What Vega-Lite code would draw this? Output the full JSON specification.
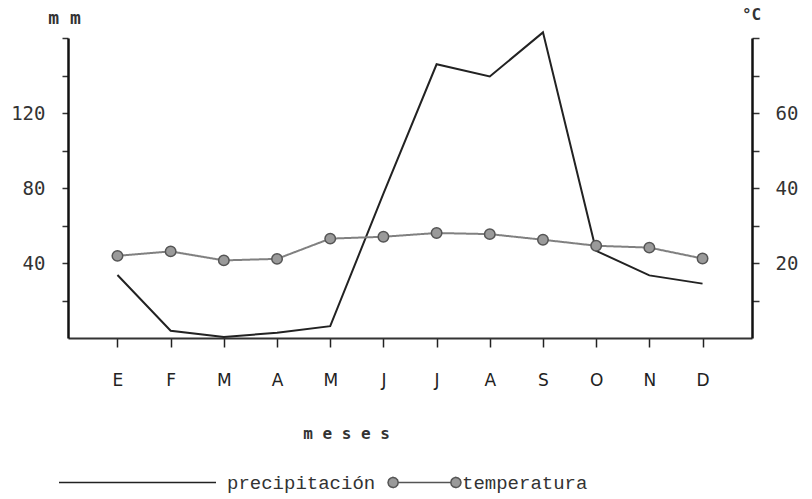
{
  "$schema": "https://vega.github.io/schema/vega-lite/v6.json",
  "width": 684,
  "height": 300,
  "autosize": {"type": "none"},
  "padding": {"left": 68, "top": 38, "right": 60, "bottom": 161},
  "background": "white",
  "config": {"view": {"stroke": null}, "axis": {"grid": false}},
  "data": {
    "values": [
      {"mes": "Ene", "precip": 33.6, "temp": 21.9},
      {"mes": "Feb", "precip": 3.9, "temp": 23.1},
      {"mes": "Mar", "precip": 0.5, "temp": 20.7},
      {"mes": "Abr", "precip": 2.8, "temp": 21.1},
      {"mes": "May", "precip": 6.3, "temp": 26.5},
      {"mes": "Jun", "precip": 77, "temp": 27.0},
      {"mes": "Jul", "precip": 146, "temp": 28.0},
      {"mes": "Ago", "precip": 139.5, "temp": 27.7},
      {"mes": "Sep", "precip": 163, "temp": 26.2},
      {"mes": "Oct", "precip": 46.5, "temp": 24.6},
      {"mes": "Nov", "precip": 33.4, "temp": 24.1},
      {"mes": "Dic", "precip": 29, "temp": 21.2}
    ]
  },
  "encoding": {
    "x": {
      "field": "mes",
      "type": "ordinal",
      "sort": ["Ene","Feb","Mar","Abr","May","Jun","Jul","Ago","Sep","Oct","Nov","Dic"],
      "scale": {"type": "point", "padding": 0.93},
      "axis": {
        "title": "m e s e s",
        "titleFont": "DejaVu Sans Mono",
        "titleFontSize": 16,
        "titleFontWeight": "bold",
        "titleColor": "#333",
        "titleX": 278,
        "titleY": 95,
        "titleAlign": "center",
        "titleBaseline": "middle",
        "labelExpr": "upper(slice(datum.value,0,1))",
        "labelAngle": 0,
        "labelFont": "DejaVu Sans",
        "labelFontSize": 17,
        "labelColor": "#222",
        "labelPadding": 25,
        "tickSize": 9,
        "tickWidth": 1.5,
        "tickColor": "#222",
        "domainWidth": 2,
        "domainColor": "#333"
      }
    }
  },
  "layer": [
    {
      "mark": {"type": "line", "strokeWidth": 2, "clip": false},
      "encoding": {
        "y": {
          "field": "precip",
          "type": "quantitative",
          "scale": {"domain": [0, 160], "nice": false},
          "axis": {
            "orient": "left",
            "values": [20, 40, 60, 80, 100, 120, 140, 160],
            "labelExpr": "(datum.value == 40 || datum.value == 80 || datum.value == 120) ? datum.value : ''",
            "labelFont": "DejaVu Sans Mono",
            "labelFontSize": 19,
            "labelColor": "#333",
            "labelPadding": 17,
            "tickSize": 6,
            "tickWidth": 1.5,
            "tickColor": "#333",
            "domainWidth": 2.5,
            "domainColor": "#111",
            "title": "m m",
            "titleAngle": 0,
            "titleFont": "DejaVu Sans Mono",
            "titleFontSize": 18,
            "titleFontWeight": "bold",
            "titleColor": "#333",
            "titleX": -4,
            "titleY": -20,
            "titleAlign": "center",
            "titleBaseline": "middle"
          }
        },
        "color": {
          "datum": "precipitación",
          "scale": {"range": ["#222"]},
          "legend": {
            "orient": "none",
            "legendX": -10,
            "legendY": 365,
            "title": null,
            "padding": 0,
            "symbolSize": 24649,
            "symbolStrokeWidth": 1.5,
            "labelFont": "Liberation Mono",
            "labelFontSize": 19,
            "labelColor": "#333",
            "labelOffset": 10
          }
        }
      }
    },
    {
      "encoding": {
        "y": {
          "field": "temp",
          "type": "quantitative",
          "scale": {"domain": [0, 80], "nice": false},
          "axis": {
            "orient": "right",
            "values": [10, 20, 30, 40, 50, 60, 70, 80],
            "labelExpr": "(datum.value == 20 || datum.value == 40 || datum.value == 60) ? datum.value : ''",
            "labelFont": "DejaVu Sans Mono",
            "labelFontSize": 19,
            "labelColor": "#333",
            "labelPadding": 16,
            "tickSize": 7,
            "tickWidth": 1.5,
            "tickColor": "#333",
            "domainWidth": 2.5,
            "domainColor": "#111",
            "title": "°C",
            "titleAngle": 0,
            "titleFont": "DejaVu Sans Mono",
            "titleFontSize": 16,
            "titleFontWeight": "bold",
            "titleColor": "#333",
            "titleX": -1,
            "titleY": -24,
            "titleAlign": "center",
            "titleBaseline": "middle"
          }
        }
      },
      "layer": [
        {
          "mark": {"type": "line", "color": "#808080", "strokeWidth": 2},
          "encoding": {
            "strokeDash": {
              "datum": "temperatura",
              "scale": {"range": [[1, 0]]},
              "legend": {
                "orient": "none",
                "legendX": 319,
                "legendY": 407,
                "title": null,
                "padding": 0,
                "symbolType": "M-0.72,0L0.72,0M-0.72,0L-0.739,0.07L-0.79,0.121L-0.86,0.14L-0.93,0.121L-0.981,0.07L-1,0L-0.981,-0.07L-0.93,-0.121L-0.86,-0.14L-0.79,-0.121L-0.739,-0.07ZM1,0L0.981,0.07L0.93,0.121L0.86,0.14L0.79,0.121L0.739,0.07L0.72,0L0.739,-0.07L0.79,-0.121L0.86,-0.14L0.93,-0.121L0.981,-0.07Z",
                "symbolSize": 5329,
                "symbolFillColor": "#9a9a9a",
                "symbolStrokeColor": "#555",
                "symbolStrokeWidth": 1.5,
                "labelFont": "Liberation Mono",
                "labelFontSize": 19,
                "labelColor": "#333",
                "labelOffset": 0,
                "encode": {
                  "symbols": {
                    "update": {
                      "fill": {"value": "#9a9a9a"},
                      "stroke": {"value": "#555"},
                      "strokeDash": {"value": [1, 0]}
                    }
                  }
                }
              }
            }
          }
        },
        {
          "mark": {"type": "point", "filled": true, "size": 110, "fill": "#9a9a9a", "stroke": "#555", "strokeWidth": 1.5, "opacity": 1}
        }
      ]
    }
  ],
  "resolve": {"scale": {"y": "independent"}}
}
